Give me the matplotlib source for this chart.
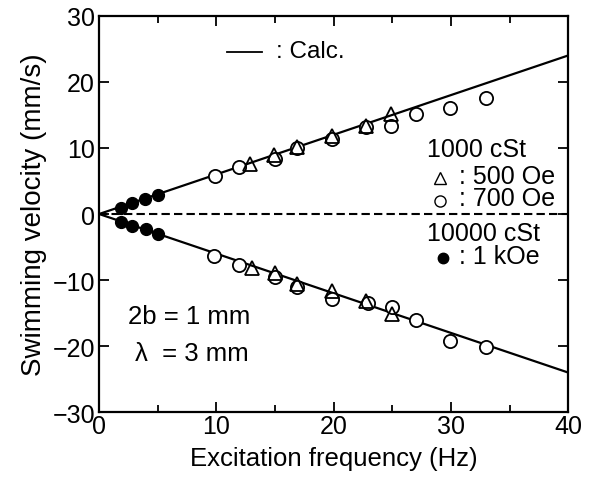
import matplotlib.pyplot as plt
import numpy as np

plt.rcParams['font.family'] = ['Liberation Sans', 'DejaVu Sans']

# upper branch (positive velocity)
f_1koe_up = [1.9, 2.8, 3.9, 5.0]
v_1koe_up = [0.9, 1.7, 2.3, 2.9]
f_700_up = [9.9, 11.9, 15.0, 16.9, 19.9, 22.8, 24.9, 27.0, 29.9, 33.0]
v_700_up = [5.7, 7.1, 8.4, 10.0, 11.3, 13.1, 13.3, 15.1, 16.0, 17.6]
f_500_up = [12.9, 14.9, 16.9, 19.9, 22.8, 24.9]
v_500_up = [7.6, 9.0, 10.1, 11.8, 13.3, 15.1]

# lower branch (negative velocity)
f_1koe_dn = [1.9, 2.8, 4.0, 5.0]
v_1koe_dn = [-1.2, -1.8, -2.3, -3.0]
f_700_dn = [9.8, 11.9, 15.0, 16.9, 19.9, 22.9, 25.0, 27.0, 29.9, 33.0]
v_700_dn = [-6.3, -7.7, -9.6, -11.0, -12.9, -13.4, -14.1, -16.0, -19.2, -20.2]
f_500_dn = [13.0, 15.0, 16.9, 19.9, 22.8, 25.0]
v_500_dn = [-8.1, -8.9, -10.6, -11.6, -13.1, -15.1]

# calculated lines
f_calc = [0, 40]
v_calc_up = [0, 24]
v_calc_dn = [0, -24]

fig = plt.figure(figsize=(5.9, 4.81), dpi=100)
ax = fig.add_axes([0.168, 0.141, 0.795, 0.824])

ax.plot(f_calc, v_calc_up, color='black', lw=1.6, zorder=2)
ax.plot(f_calc, v_calc_dn, color='black', lw=1.6, zorder=2)
ax.axhline(0, color='black', lw=1.5, ls=(0, (4, 2)), zorder=1)

ms = 9.5
for f, v in [(f_700_up, v_700_up), (f_700_dn, v_700_dn)]:
    ax.plot(f, v, 'o', ms=ms, mfc='white', mec='black', mew=1.3, ls='none', zorder=3)
for f, v in [(f_500_up, v_500_up), (f_500_dn, v_500_dn)]:
    ax.plot(f, v, '^', ms=ms, mfc='none', mec='black', mew=1.3, ls='none', zorder=4)
for f, v in [(f_1koe_up, v_1koe_up), (f_1koe_dn, v_1koe_dn)]:
    ax.plot(f, v, 'o', ms=8.5, mfc='black', mec='black', ls='none', zorder=4)

ax.set_xlim(0, 40)
ax.set_ylim(-30, 30)
ax.set_xticks([0, 10, 20, 30, 40])
ax.set_xticks([5, 15, 25, 35], minor=True)
ax.set_yticks([-30, -20, -10, 0, 10, 20, 30])
ax.set_yticklabels(['\u221230', '\u221220', '\u221210', '0', '10', '20', '30'])
ax.tick_params(which='both', direction='in', top=True, right=True, labelsize=18, width=1.3)
ax.tick_params(which='major', length=7)
ax.tick_params(which='minor', length=5)
ax.tick_params(axis='x', pad=1)
ax.tick_params(axis='y', pad=3)
for s in ax.spines.values():
    s.set_linewidth(1.6)

ax.set_xlabel('Excitation frequency (Hz)', fontsize=18.5, labelpad=6)
ax.set_ylabel('Swimming velocity (mm/s)', fontsize=20, labelpad=4)

# legend-like annotations
ax.plot([10.9, 13.9], [24.6, 24.6], color='black', lw=1.3)
ax.text(15.1, 24.7, ': Calc.', fontsize=17.5, va='center')
ax.text(28.0, 9.8, '1000 cSt', fontsize=18, va='center')
ax.plot([29.1], [5.4], '^', ms=8, mfc='none', mec='black', mew=1.0)
ax.text(30.7, 5.7, ': 500 Oe', fontsize=18, va='center')
ax.plot([29.1], [2.0], 'o', ms=8, mfc='none', mec='black', mew=1.0)
ax.text(30.7, 2.4, ': 700 Oe', fontsize=18, va='center')
ax.text(28.0, -2.9, '10000 cSt', fontsize=18, va='center')
ax.plot([29.3], [-6.6], 'o', ms=7.5, mfc='black', mec='black')
ax.text(30.7, -6.4, ': 1 kOe', fontsize=18, va='center')
ax.text(2.5, -15.4, '2b = 1 mm', fontsize=18.5, va='center')
ax.text(3.1, -21.0, '\u03bb  = 3 mm', fontsize=18.5, va='center')

fig.savefig('out.png', dpi=100)
